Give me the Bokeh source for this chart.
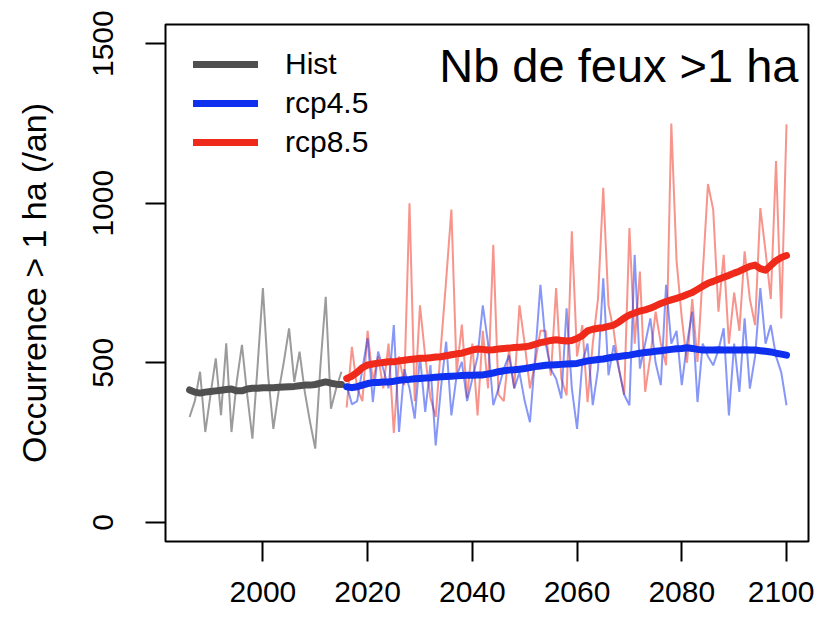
from bokeh.plotting import figure
from bokeh.models import Range1d, FixedTicker, Legend, LegendItem, Label
from bokeh.embed import file_html
from bokeh.resources import INLINE

# ---- data ----
hist_years = list(range(1986, 2016))
hist_annual = [330, 380, 472, 283, 400, 514, 336, 561, 283, 440,
               556, 400, 262, 493, 734, 460, 293, 409, 503, 608,
               440, 535, 409, 315, 231, 493, 707, 356, 420, 472]
hist_smooth = [415, 408, 405, 408, 410, 412, 414, 416, 418, 412,
               412, 418, 420, 420, 422, 422, 422, 423, 424, 425,
               426, 428, 430, 430, 432, 436, 440, 436, 433, 432]

proj_years = list(range(2016, 2101))
rcp85_annual = [360, 550, 420, 380, 600, 440, 520, 420, 560, 280,
                520, 430, 1000, 380, 680, 520, 390, 330, 550, 760,
                980, 470, 620, 390, 560, 335, 600, 420, 870, 400,
                380, 540, 420, 680, 560, 420, 500, 600, 600, 460,
                734, 450, 398, 912, 520, 618, 377, 560, 700, 1048,
                680, 600, 480, 400, 922, 560, 786, 409, 520, 660,
                560, 492, 1250, 820, 640, 500, 700, 503, 780, 1060,
                980, 660, 838, 560, 720, 600, 849, 700, 618, 985,
                849, 700, 1132, 639, 1247]
rcp45_annual = [430, 370, 380, 480, 577, 377, 535, 480, 420, 618,
                283, 480, 420, 325, 520, 346, 493, 241, 420, 566,
                335, 460, 503, 380, 450, 520, 680, 560, 367, 420,
                480, 524, 420, 470, 380, 314, 520, 744, 560, 480,
                450, 388, 671, 420, 293, 500, 560, 367, 480, 765,
                461, 555, 480, 400, 367, 838, 482, 560, 639, 500,
                430, 744, 560, 600, 430, 560, 660, 377, 560, 520,
                492, 540, 608, 335, 560, 409, 639, 419, 520, 734,
                560, 618, 520, 470, 367]
rcp85_smooth = [451, 458, 470, 485, 493, 496, 499, 501, 503, 503,
                506, 508, 510, 512, 514, 514, 516, 518, 519, 522,
                525, 528, 530, 535, 540, 543, 542, 540, 541, 543,
                545, 546, 548, 549, 550, 553, 558, 563, 566, 570,
                572, 570, 568, 570, 576, 585, 600, 605, 608, 610,
                614, 618, 628, 640, 650, 656, 662, 666, 671, 678,
                686, 692, 697, 702, 707, 714, 720, 730, 740, 749,
                755, 762, 768, 774, 781, 787, 795, 802, 806, 795,
                790, 805, 820, 830, 836]
rcp45_smooth = [425, 422, 425, 430, 435, 438, 438, 440, 440, 442,
                445, 447, 448, 450, 451, 452, 453, 455, 456, 457,
                458, 459, 460, 461, 461, 462, 462, 465, 468, 472,
                475, 477, 478, 480, 482, 485, 488, 490, 492, 493,
                494, 495, 496, 497, 498, 502, 506, 508, 510, 512,
                515, 518, 520, 522, 524, 527, 530, 532, 534, 536,
                538, 540, 542, 544, 545, 547, 545, 542, 540, 540,
                540, 541, 540, 540, 540, 540, 541, 540, 540, 538,
                536, 534, 530, 527, 524]

x_ticks = [2000, 2020, 2040, 2060, 2080, 2100]
y_ticks = [0, 500, 1000, 1500]
legend_labels = ["Hist", "rcp4.5", "rcp8.5"]
title_text = "Nb de feux >1 ha"
y_title = "Occurrence > 1 ha (/an)"

GRAY_THIN = "#7a7a7a"
GRAY_THICK = "#505050"
BLUE = "#1030f0"
RED = "#f02a1a"
FONT = "Liberation Sans"

p = figure(frame_width=643, frame_height=517,
           min_border_left=165, min_border_right=6,
           min_border_top=24, min_border_bottom=76,
           x_range=Range1d(1981.4, 2104.2), y_range=Range1d(-60, 1560),
           output_backend="svg", toolbar_location=None)

p.xgrid.visible = False
p.ygrid.visible = False
p.outline_line_color = "black"
p.outline_line_width = 2
p.outline_line_alpha = 1
p.background_fill_color = "white"
p.border_fill_color = "white"

for ax in (p.xaxis[0], p.yaxis[0]):
    ax.axis_line_color = None
    ax.major_tick_out = 20
    ax.major_tick_in = 0
    ax.major_tick_line_width = 2
    ax.major_tick_line_color = "black"
    ax.minor_tick_line_color = None
    ax.major_label_text_font = FONT
    ax.major_label_text_font_size = "30px"
    ax.major_label_text_color = "black"

p.xaxis.ticker = FixedTicker(ticks=x_ticks)
p.yaxis.ticker = FixedTicker(ticks=y_ticks)
p.xaxis.major_label_standoff = 20
p.xaxis.major_label_text_line_height = 1.0
p.yaxis.major_label_standoff = 32
p.yaxis.major_label_orientation = "vertical"
p.yaxis.axis_label = y_title
p.yaxis.axis_label_text_font = FONT
p.yaxis.axis_label_text_font_size = "34px"
p.yaxis.axis_label_text_font_style = "normal"
p.yaxis.axis_label_text_color = "black"
p.yaxis.axis_label_standoff = 38

# thin annual series
p.line(proj_years, rcp85_annual, line_color=RED, line_width=2, line_alpha=0.5)
p.line(proj_years, rcp45_annual, line_color=BLUE, line_width=2, line_alpha=0.5)
p.line(hist_years, hist_annual, line_color=GRAY_THIN, line_width=2, line_alpha=0.75)

# smoothed series
r_hist = p.line(hist_years, hist_smooth, line_color=GRAY_THICK, line_width=7,
                line_cap="round", line_join="round")
r_85 = p.line(proj_years, rcp85_smooth, line_color=RED, line_width=7,
              line_cap="round", line_join="round")
r_45 = p.line(proj_years, rcp45_smooth, line_color=BLUE, line_width=7,
              line_cap="round", line_join="round")

legend = Legend(items=[LegendItem(label=legend_labels[0], renderers=[r_hist]),
                       LegendItem(label=legend_labels[1], renderers=[r_45]),
                       LegendItem(label=legend_labels[2], renderers=[r_85])],
                location=(28, 382), orientation="vertical",
                border_line_color=None, background_fill_alpha=0,
                margin=0, padding=0, spacing=5,
                glyph_width=65, glyph_height=34, label_height=34,
                label_standoff=27,
                label_text_font=FONT, label_text_font_size="30px",
                label_text_color="black")
p.add_layout(legend)

p.add_layout(Label(x=633, y=476, x_units="screen", y_units="screen",
                   text=title_text, text_align="right",
                   text_baseline="alphabetic", text_font=FONT,
                   text_font_size="47px", text_color="black"))

open("out.html", "w").write(file_html(p, INLINE))
